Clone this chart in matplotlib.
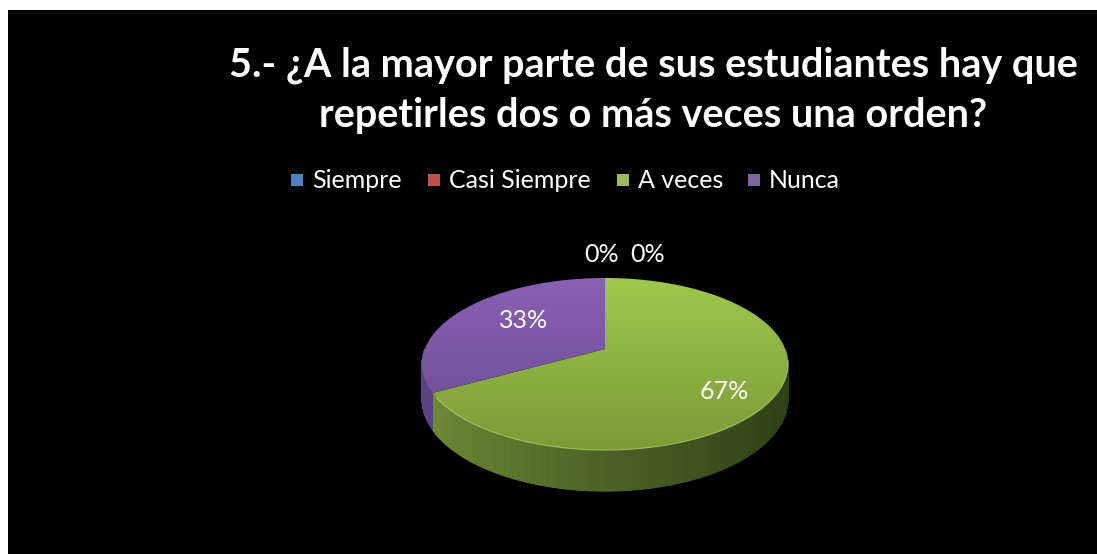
import numpy as np
import matplotlib
matplotlib.use("Agg")
import matplotlib.pyplot as plt
from matplotlib.patches import Polygon, Rectangle
from matplotlib.colors import LinearSegmentedColormap, to_rgb

# ---- data ----
title = "5.- ¿A la mayor parte de sus estudiantes hay que\nrepetirles dos o más veces una orden?"
categories = ["Siempre", "Casi Siempre", "A veces", "Nunca"]
values = [0, 0, 67, 33]
colors = ["#4f81bd", "#c0504d", "#9bbb59", "#8064a2"]
top_light = ["#5a8fd0", "#d05a56", "#a0c74d", "#8b60b3"]
top_dark = ["#3f6ea8", "#a8403d", "#7b9b38", "#674b8f"]
side_light = ["#3e6aa0", "#a03c3a", "#73923a", "#5e4487"]
side_dark = ["#223c5c", "#5c2220", "#2e3d16", "#3a2a55"]

W, H = 1097, 554
fig = plt.figure(figsize=(W / 100, H / 100), dpi=100, facecolor="white")
ax = fig.add_axes([0, 0, 1, 1])
ax.set_xlim(0, W)
ax.set_ylim(H, 0)
ax.axis("off")
ax.add_patch(Rectangle((8, 10), W, H, facecolor="black", edgecolor="none", zorder=0))

FONT = ["Lato", "DejaVu Sans"]

for i, line in enumerate(title.split("\n")):
    ax.text(653, 77 + 50 * i, line, ha="center", va="baseline", color="white",
            fontsize=28.5, fontweight="bold", family=FONT, zorder=5)

# legend
leg_x = [291, 428, 617, 748]
for x, c, lab in zip(leg_x, colors, categories):
    ax.add_patch(Rectangle((x, 174), 12, 12, facecolor=c, edgecolor="none", zorder=5))
    ax.text(x + 21, 180, lab, ha="left", va="center", color="white", fontsize=18,
            family=FONT, zorder=5)

# ---- 3D pie (simple perspective projection of a disc) ----
cx, cy = 605, 349          # projected centre (apex)
B, A, k, D = 180.2, 83.4, 0.1744, 34.0
total = float(sum(values))

def pt(t, f=1.0):
    r = np.radians(t)
    X, Y = f * np.cos(r), f * np.sin(r)
    w = 1 + k * Y
    return cx + B * X / w, cy - A * Y / w

def dep(t):
    return D / (1 + k * np.sin(np.radians(t)))

wedges = []
cum = 0.0
for v in values:
    a1 = 90 - cum / total * 360
    cum += v
    a2 = 90 - cum / total * 360
    wedges.append((a2, a1))  # counterclockwise from a2 to a1

# side walls (front half: angles 180..360)
for (a2, a1), sl, sd, v in zip(wedges, side_light, side_dark, values):
    if v == 0:
        continue
    lo, hi = a2 % 360, a2 % 360 + (a1 - a2)
    segs = []
    for off in (0, 360, -360):
        s, e = max(lo + off, 180), min(hi + off, 360)
        if e > s:
            segs.append((s, e))
    cl, cd = np.array(to_rgb(sl)), np.array(to_rgb(sd))
    for s, e in segs:
        ts = np.linspace(s, e, max(int((e - s) * 2), 2))
        for t1, t2 in zip(ts[:-1], ts[1:]):
            x1, y1 = pt(t1)
            x2, y2 = pt(t2)
            f = (1 + np.cos(np.radians((t1 + t2) / 2))) / 2   # 0 at left, 1 at right
            f = f ** 0.9
            col = cl * (1 - f) + cd * f
            ax.add_patch(Polygon([(x1, y1), (x2, y2), (x2, y2 + dep(t2)), (x1, y1 + dep(t1))],
                                 closed=True, facecolor=col, edgecolor=col, lw=0.6, zorder=2))

# top faces with vertical gradient
grad = np.linspace(0, 1, 256).reshape(-1, 1)
tt = np.linspace(0, 360, 721)
ex, ey = pt(tt)
for (a2, a1), tl, td, v in zip(wedges, top_light, top_dark, values):
    if v == 0:
        continue
    ts = np.linspace(a2, a1, 300)
    xs, ys = pt(ts)
    poly = Polygon(np.column_stack([np.r_[cx, xs], np.r_[cy, ys]]), closed=True,
                   facecolor="none", edgecolor="none", zorder=3)
    ax.add_patch(poly)
    cmap = LinearSegmentedColormap.from_list("g", [tl, td])
    im = ax.imshow(grad, cmap=cmap, extent=(ex.min(), ex.max(), ey.max(), ey.min()),
                   aspect="auto", zorder=3, interpolation="bilinear")
    im.set_clip_path(poly)

# highlight on front rim
ts = np.linspace(212, 352, 200)
xs, ys = pt(ts)
ax.plot(xs, ys, color="#b8d870", lw=0.8, alpha=0.7, zorder=4)
ax.set_xlim(0, W)
ax.set_ylim(H, 0)

# labels
zero_offsets = [-3, 43]
zi = 0
for (a2, a1), v in zip(wedges, values):
    pct = f"{round(v / total * 100):.0f}%"
    if v == 0:
        x, y = pt(90)
        ax.text(x + zero_offsets[zi], y - 23, pct, ha="center", va="center",
                color="white", fontsize=18, family=FONT, zorder=6)
        zi += 1
    else:
        mid = (a1 + a2) / 2
        if v < 50:
            x, y = pt(mid, 0.55)
            y -= 6
        else:
            x, y = pt(mid, 0.72)
            y += 10
        ax.text(x, y, pct, ha="center", va="center", color="white", fontsize=18,
                family=FONT, zorder=6)

fig.savefig("out.png", dpi=100, facecolor="white")
